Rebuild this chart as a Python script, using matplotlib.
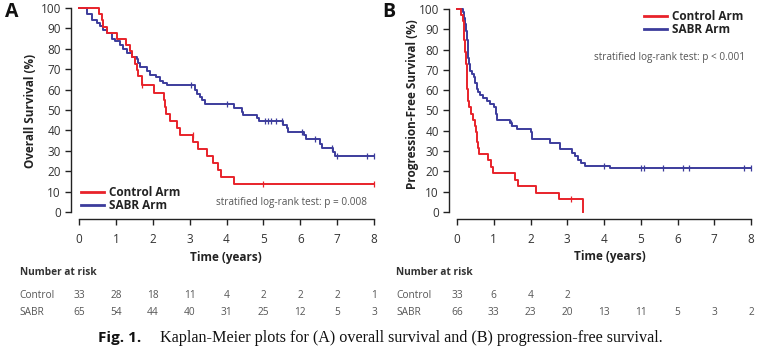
import matplotlib
matplotlib.use("Agg")
import matplotlib.pyplot as plt
import matplotlib.transforms as mtransforms

plt.rcParams['font.family'] = ['Open Sans', 'DejaVu Sans']

red = '#e8222a'
blue = '#3c3c9c'
txt = '#333333'

# Panel A: overall survival (step points)
os_ctrl_t = [0, 0.55, 0.61, 0.66, 0.75, 1.02, 1.27, 1.38, 1.43, 1.52, 1.56, 1.61, 1.70, 2.02,
             2.31, 2.33, 2.36, 2.47, 2.65, 2.74, 3.10, 3.24, 3.46, 3.64, 3.78, 3.84, 4.19, 8.0]
os_ctrl_s = [100, 97, 93.9, 90.9, 87.9, 84.8, 81.8, 78.8, 75.8, 72.7, 69.7, 66.7, 62.0, 58.4,
             55.0, 51.5, 48.1, 44.7, 41.2, 37.8, 34.4, 30.9, 27.5, 24.1, 20.6, 17.2, 13.7, 13.7]
os_ctrl_cens_t = [1.72, 3.10, 5.0, 8.0]
os_ctrl_cens_s = [62.0, 37.8, 13.7, 13.7]

os_sabr_t = [0, 0.21, 0.34, 0.48, 0.57, 0.66, 0.75, 0.89, 0.98, 1.11, 1.20, 1.29, 1.43, 1.56,
             1.61, 1.66, 1.84, 1.93, 2.10, 2.20, 2.29, 2.38, 3.15, 3.20, 3.27, 3.33, 3.42, 4.19,
             4.41, 4.46, 4.82, 4.87, 5.54, 5.63, 5.68, 6.10, 6.15, 6.54, 6.59, 6.90, 6.95, 8.0]
os_sabr_s = [100, 97, 94, 92.5, 91, 89, 87.5, 85, 84, 82, 80, 78, 76, 75,
             73, 71, 69, 67, 66, 64, 63, 62, 60, 58, 56.5, 55, 53, 51,
             49, 47.5, 46, 44.5, 42.5, 41, 39, 37.5, 35.6, 33.5, 31.5, 29.5, 27.5, 27.5]
os_sabr_cens_t = [3.05, 4.0, 5.05, 5.12, 5.2, 5.35, 5.5, 6.05, 6.4, 6.85, 7.0, 7.8, 8.0]
os_sabr_cens_s = [62, 53, 44.5, 44.5, 44.5, 44.5, 44.5, 39, 35.6, 31.5, 27.5, 27.5, 27.5]

# Panel B: progression-free survival
pfs_ctrl_t = [0, 0.12, 0.15, 0.18, 0.20, 0.22, 0.24, 0.26, 0.28, 0.30, 0.33, 0.37, 0.43,
              0.49, 0.52, 0.54, 0.56, 0.59, 0.85, 0.93, 0.97, 1.58, 1.67, 2.14, 2.78, 3.44]
pfs_ctrl_s = [100, 97, 93.9, 87.9, 84.8, 78.8, 72.7, 66.7, 60.6, 54.5, 51.5, 48.5, 45.5,
              42.4, 39.4, 34.4, 31.3, 28.7, 25.4, 22.1, 19.0, 15.9, 12.7, 9.5, 6.2, 0]
pfs_ctrl_cens_t = [3.1]
pfs_ctrl_cens_s = [6.2]

pfs_sabr_t = [0, 0.15, 0.20, 0.23, 0.25, 0.27, 0.29, 0.31, 0.33, 0.36, 0.40, 0.46, 0.50,
              0.54, 0.58, 0.63, 0.72, 0.81, 0.90, 1.00, 1.05, 1.09, 1.44, 1.49, 1.63, 2.00,
              2.04, 2.53, 2.81, 3.12, 3.20, 3.30, 3.38, 3.49, 4.17, 8.0]
pfs_sabr_s = [100, 98.5, 95.5, 92.4, 89.4, 84.8, 80.3, 75.8, 72.7, 69.7, 68.2, 66.7, 63.6,
              60.6, 59.1, 57.6, 56.1, 54.5, 53.0, 51.5, 48.5, 45.5, 44.0, 42.4, 40.9, 39.2,
              36.0, 33.9, 31.0, 29.0, 27.5, 25.5, 24.0, 22.8, 21.5, 21.5]
pfs_sabr_cens_t = [1.47, 4.0, 5.0, 5.1, 5.6, 6.15, 6.3, 7.8, 8.0]
pfs_sabr_cens_s = [44.0, 22.8, 21.5, 21.5, 21.5, 21.5, 21.5, 21.5, 21.5]

years = [0, 1, 2, 3, 4, 5, 6, 7, 8]
os_risk_ctrl = [33, 28, 18, 11, 4, 2, 2, 2, 1]
os_risk_sabr = [65, 54, 44, 40, 31, 25, 12, 5, 3]
pfs_risk_ctrl = [33, 6, 4, 2]
pfs_risk_sabr = [66, 33, 23, 20, 13, 11, 5, 3, 2]

fig = plt.figure(figsize=(7.59, 3.48), dpi=100)
axA = fig.add_axes([0.1041, 0.391, 0.3887, 0.586])
axB = fig.add_axes([0.6021, 0.391, 0.3874, 0.583])


def km_panel(ax, ct, cs, cct, ccs, st, ss, sct, scs):
    ax.step(ct, cs, where='post', color=red, lw=1.4, label='Control Arm', clip_on=False, zorder=3)
    ax.step(st, ss, where='post', color=blue, lw=1.4, label='SABR Arm', clip_on=False, zorder=2)
    ax.plot(cct, ccs, '|', color=red, ms=5, mew=0.9, clip_on=False)
    ax.plot(sct, scs, '|', color=blue, ms=5, mew=0.9, clip_on=False)
    ax.set_xlim(0, 8)
    ax.set_ylim(0, 100)
    ax.set_xticks(years)
    ax.set_yticks(range(0, 101, 10))
    for s in ['top', 'right']:
        ax.spines[s].set_visible(False)
    ax.spines['left'].set_position(('outward', 6))
    ax.spines['bottom'].set_position(('outward', 5))
    for s in ['left', 'bottom']:
        ax.spines[s].set_color('#222222')
        ax.spines[s].set_linewidth(1.0)
    ax.tick_params(direction='out', length=4, width=1.0, colors='#222222',
                   labelsize=8.5, labelcolor=txt)
    ax.tick_params(axis='x', pad=6)
    ax.tick_params(axis='y', pad=3)


km_panel(axA, os_ctrl_t, os_ctrl_s, os_ctrl_cens_t, os_ctrl_cens_s,
         os_sabr_t, os_sabr_s, os_sabr_cens_t, os_sabr_cens_s)
km_panel(axB, pfs_ctrl_t, pfs_ctrl_s, pfs_ctrl_cens_t, pfs_ctrl_cens_s,
         pfs_sabr_t, pfs_sabr_s, pfs_sabr_cens_t, pfs_sabr_cens_s)

legA = axA.legend(loc='lower left', bbox_to_anchor=(-0.01, -0.025), frameon=False,
                  handlelength=2.0, handletextpad=0.4, borderaxespad=0, labelspacing=0.05,
                  prop={'weight': 'bold', 'size': 8.5})
legB = axB.legend(loc='upper right', bbox_to_anchor=(0.99, 1.02), frameon=False,
                  handlelength=2.0, handletextpad=0.4, borderaxespad=0, labelspacing=0.05,
                  prop={'weight': 'bold', 'size': 8.5})
for leg in (legA, legB):
    for t in leg.get_texts():
        t.set_color('#222222')
    for h in leg.get_lines():
        h.set_linewidth(2.0)

axA.text(7.82, 4.5, 'stratified log-rank test: p = 0.008', ha='right', va='center',
         fontsize=7.2, color='#555555')
axB.text(7.84, 76, 'stratified log-rank test: p < 0.001', ha='right', va='center',
         fontsize=7.2, color='#555555')

# panel letters and axis labels
fig.text(0.006, 0.965, 'A', fontsize=14, weight='bold', va='center', color='#111111')
fig.text(0.503, 0.965, 'B', fontsize=14, weight='bold', va='center', color='#111111')
fig.text(0.040, 0.68, 'Overall Survival (%)', rotation=90, ha='center', va='center',
         fontsize=8.5, weight='bold', color='#222222')
fig.text(0.543, 0.70, 'Progression-Free Survival (%)', rotation=90, ha='center', va='center',
         fontsize=8.5, weight='bold', color='#222222')
fig.text(0.298, 0.259, 'Time (years)', ha='center', va='center', fontsize=8.5,
         weight='bold', color='#222222')
fig.text(0.804, 0.262, 'Time (years)', ha='center', va='center', fontsize=8.5,
         weight='bold', color='#222222')


# number at risk tables
def risk_table(ax, x_lab, ctrl, sabr):
    tr = mtransforms.blended_transform_factory(ax.transData, fig.transFigure)
    fig.text(x_lab, 0.218, 'Number at risk', fontsize=7.3, weight='bold', va='center', color='#333333')
    fig.text(x_lab, 0.152, 'Control', fontsize=7.3, va='center', color='#555555')
    fig.text(x_lab, 0.103, 'SABR', fontsize=7.3, va='center', color='#555555')
    for x, n in zip(years, ctrl):
        ax.text(x, 0.152, str(n), transform=tr, ha='center', va='center', fontsize=7.3, color='#555555')
    for x, n in zip(years, sabr):
        ax.text(x, 0.103, str(n), transform=tr, ha='center', va='center', fontsize=7.3, color='#555555')


risk_table(axA, 0.026, os_risk_ctrl, os_risk_sabr)
risk_table(axB, 0.522, pfs_risk_ctrl, pfs_risk_sabr)

fig.text(0.129, 0.029, 'Fig. 1.', fontsize=11, weight='bold', va='center', color='#111111')
fig.text(0.211, 0.029, 'Kaplan-Meier plots for (A) overall survival and (B) progression-free survival.',
         fontsize=11.6, va='center', family=['Liberation Serif', 'DejaVu Serif'], color='#111111')

fig.savefig('out.png', dpi=100)
